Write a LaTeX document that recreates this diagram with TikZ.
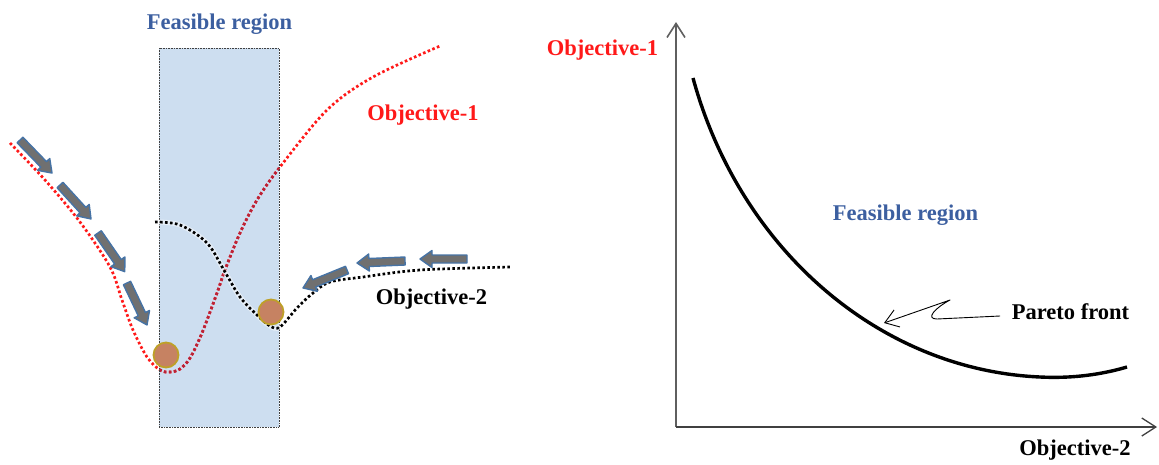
\documentclass[tikz,border=0pt]{standalone}
\usepackage{fontspec}
\setmainfont{Liberation Serif}
\usetikzlibrary{arrows.meta}
\definecolor{regionblue}{RGB}{205,222,240}
\definecolor{titleblue}{RGB}{60,95,160}
\definecolor{objred}{RGB}{255,25,25}
\definecolor{objredin}{RGB}{185,35,55}
\definecolor{arrowblue}{RGB}{70,115,165}
\definecolor{arrowgray}{RGB}{112,112,112}
\definecolor{ballfill}{RGB}{198,130,98}
\definecolor{ballring}{RGB}{190,160,40}
\definecolor{axisgray}{RGB}{95,95,95}
\begin{document}
\begin{tikzpicture}[x=1pt,y=-1pt,
  lbl/.style={font=\fontsize{22.5}{26}\selectfont\bfseries, inner sep=0pt, anchor=base},
  dotline/.style={line width=2.7pt, line cap=butt, dash pattern=on 2.6pt off 2.4pt},
  ball/.style={circle, minimum size=25pt, inner sep=0pt, fill=ballfill, draw=ballring, line width=1.8pt},
  pics/barrow/.style={code={\draw[arrowblue, fill=arrowgray, line width=1.4pt, line join=round]
     (0,-4) -- (#1-12,-4) -- (#1-12,-8.5) -- (#1,0) -- (#1-12,8.5) -- (#1-12,4) -- (0,4) -- cycle;}},
  barb/.style={-{Straight Barb[length=14pt,width=18pt]}}
]
\useasboundingbox (0,0) rectangle (1159,464);

% feasible region box
\path[fill=regionblue] (159,48) rectangle (279,427);

% objective-1 curve
\def\redpts{(10,143) (45,180) (80,222) (110,267) (122,300) (133,330) (147,357) (160,370) (170,372) (180,369) (190,358) (202,333) (217,293) (225,270) (240,233) (257,200) (280,167) (327,110) (373,77) (440,46)}
\draw[dotline, objred] plot[smooth, tension=0.55] coordinates {\redpts};
\begin{scope}
  \clip (159,48) rectangle (279,427);
  \draw[dotline, objredin] plot[smooth, tension=0.55] coordinates {\redpts};
\end{scope}

\draw[black!75, line width=0.6pt, densely dotted] (159,48) rectangle (279,427);

% objective-2 curve
\draw[dotline, black, preaction={draw=white, solid, opacity=0.5, line width=5pt}]
  plot[smooth, tension=0.55] coordinates {(155,222) (180,225) (207,243) (225,272) (240,297) (257,315) (270,326) (280,327) (297,308) (313,293) (330,282) (363,277) (420,270) (510,267)};

% block arrows
\pic[rotate=-45.9] (a1) at (20,140) {barrow=46};
\pic[rotate=-47.6] (a2) at (60,185) {barrow=46};
\pic[rotate=-55.3] (a3) at (98,233) {barrow=47};
\pic[rotate=-64.5] (a4) at (127,283) {barrow=46.5};
\pic[rotate=180] (b1) at (467,259) {barrow=47};
\pic[rotate=182.4] (b2) at (405,261) {barrow=48};
\pic[rotate=202.2] (b3) at (347,270) {barrow=47.5};

% minima balls
\node[ball] (ball1) at (166,355) {};
\node[ball] (ball2) at (271,312) {};

% left labels
\node[lbl, text=titleblue] (frL) at (219.5,29.5) {Feasible region};
\node[lbl, text=objred] (o1L) at (423,120) {Objective-1};
\node[lbl] (o2L) at (431.5,304.5) {Objective-2};

% right panel axes
\coordinate (origin) at (676,427);
\coordinate (ytop) at (676,22);
\coordinate (xend) at (1157,427);
\draw[axisgray, line width=1.6pt, barb] (origin) -- (ytop);
\draw[black!75, line width=1.3pt, barb] (origin) -- (xend);

% pareto front
\coordinate (pf0) at (693,78);
\coordinate (pf1) at (1040,377);
\coordinate (pf2) at (1127,367);
\draw[line width=3.4pt] (pf0) .. controls (740,250) and (880,370) .. (pf1)
  .. controls (1080,379) and (1110,372) .. (pf2);

\node[lbl, text=objred] (o1R) at (602.5,55) {Objective-1};
\node[lbl, text=titleblue] (frR) at (905.5,220) {Feasible region};
\node[lbl] (pareto) at (1070.5,319) {Pareto front};
\node[lbl] (o2R) at (1075,455) {Objective-2};

\coordinate (pa) at (1000,316);
\coordinate (pb) at (950,300);
\coordinate (ptip) at (884,323);
\draw[line width=0.9pt, line join=round, -{Straight Barb[length=13pt,width=18pt]}]
  (pa) -- (937,319) .. controls (925,319) and (935,308) .. (pb) -- (ptip);
\end{tikzpicture}
\end{document}
